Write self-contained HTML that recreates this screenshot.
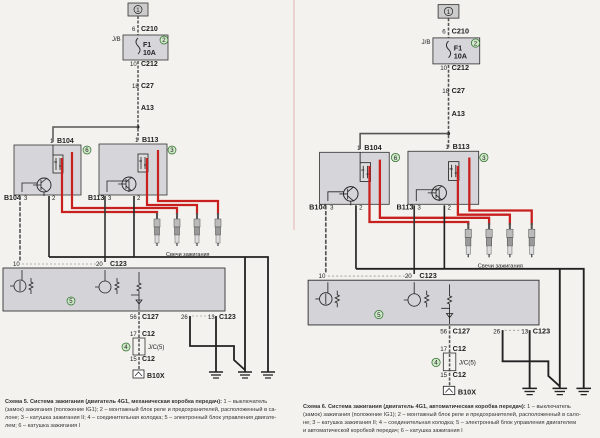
<!DOCTYPE html>
<html><head><meta charset="utf-8"><style>
html,body{margin:0;padding:0;background:#f3f2ee;}
svg{display:block;}
text{font-family:"Liberation Sans",sans-serif;fill:#222;}
.b{font-weight:bold;font-size:7px;}
.s{font-size:6px;}
.cap{font-size:5.6px;fill:#333;}
</style></head><body>
<svg width="600" height="438" viewBox="0 0 600 438" xmlns="http://www.w3.org/2000/svg">
<defs>
<g id="plug">
  <rect x="-1" y="0" width="2" height="6" fill="#555"/>
  <rect x="-3" y="6" width="6" height="8" fill="#bbb" stroke="#666" stroke-width="0.6"/>
  <rect x="-2.5" y="14" width="5" height="8" fill="#999" stroke="#555" stroke-width="0.6"/>
  <rect x="-2" y="22" width="4" height="8" fill="#ddd" stroke="#777" stroke-width="0.6"/>
  <rect x="-0.6" y="30" width="1.2" height="3" fill="#444"/>
</g>
<g id="gnd">
  <line x1="-7" y1="0" x2="7" y2="0" stroke="#222" stroke-width="1.5"/>
  <line x1="-5" y1="3" x2="5" y2="3" stroke="#222" stroke-width="1.3"/>
  <line x1="-3" y1="6" x2="3" y2="6" stroke="#222" stroke-width="1.2"/>
</g>
<g id="coil">
  <rect x="-5" y="0" width="10" height="18" fill="#ddd" stroke="#222" stroke-width="0.8"/>
  <path d="M-2 3 v12 M2 3 v12 M-4 7 h3 M1 11 h3" stroke="#222" stroke-width="0.8"/>
  <circle cx="-14" cy="30" r="7" fill="none" stroke="#222" stroke-width="0.9"/>
  <path d="M-17 25 v10 M-17 30 h-8 M-17 28 l6 -5 M-17 32 l6 5" stroke="#222" stroke-width="0.8" fill="none"/>
</g>
<g id="half">
  <rect x="128" y="3" width="20" height="13" fill="#ccc" stroke="#333" stroke-width="0.8"/>
  <circle cx="138" cy="9.5" r="4" fill="none" stroke="#222" stroke-width="0.7"/>
  <text x="136.3" y="12" class="s">1</text>
  <line x1="138" y1="16" x2="138" y2="142" stroke="#555" stroke-width="1.5" stroke-dasharray="3,1.5"/>
  <text x="132" y="31" class="s">6</text><text x="141" y="31" class="b">C210</text>
  <rect x="123" y="35" width="45" height="25" fill="#d6d6da" stroke="#333" stroke-width="0.8"/>
  <text x="112" y="41" class="s">J/B</text>
  <circle cx="164" cy="40" r="4" fill="#cfe8c8" stroke="#2a6a2a" stroke-width="0.7"/>
  <text x="162.3" y="42.2" class="s">2</text>
  <path d="M138 38 q-4 4 0 8 q4 4 0 8" fill="none" stroke="#222" stroke-width="0.9"/>
  <text x="143" y="47" class="b">F1</text><text x="143" y="55" class="b">10A</text>
  <text x="130" y="66" class="s">10</text><text x="141" y="66" class="b">C212</text>
  <text x="132" y="88" class="s">18</text><text x="141" y="88" class="b">C27</text>
  <text x="141" y="110" class="b">A13</text>
  <circle cx="138" cy="127" r="1.5" fill="#222"/>
  <path d="M138 127 H53 V142" fill="none" stroke="#555" stroke-width="1.5"/>
  <rect x="14" y="145" width="67" height="50" fill="#d6d6da" stroke="#333" stroke-width="0.8"/>
  <rect x="99" y="144" width="68" height="51" fill="#d6d6da" stroke="#333" stroke-width="0.8"/>
  <text x="50" y="143" class="s">1</text><text x="57" y="143" class="b">B104</text>
  <text x="135" y="142" class="s">1</text><text x="142" y="142" class="b">B113</text>
  <circle cx="87" cy="150" r="4" fill="#cfe8c8" stroke="#2a6a2a" stroke-width="0.7"/><text x="85.3" y="152.2" class="s">6</text>
  <circle cx="172" cy="150" r="4" fill="#cfe8c8" stroke="#2a6a2a" stroke-width="0.7"/><text x="170.3" y="152.2" class="s">3</text>
  <use href="#coil" x="58" y="155"/>
  <use href="#coil" x="143" y="154"/>
  <path d="M53 155 V145 M44 192 v4 M22 192 V183 H37 M129 192 V181 H120 H107 V192" stroke="#222" stroke-width="0.8" fill="none"/>
  <text x="4" y="200" class="b">B104</text><text x="24" y="200" class="s">3</text><text x="52" y="200" class="s">2</text>
  <text x="88" y="200" class="b">B113</text><text x="108" y="200" class="s">3</text><text x="137" y="200" class="s">2</text>
  <g fill="none" stroke="#c8201e" stroke-width="2.2">
    <path d="M62 158 V212 H157 V215"/>
    <path d="M72 152 V208 H177 V215"/>
    <path d="M147 158 V205 H197 V215"/>
    <path d="M158 150 V201 H218 V215"/>
  </g>
  <use href="#plug" x="157" y="213"/><use href="#plug" x="177" y="213"/>
  <use href="#plug" x="197" y="213"/><use href="#plug" x="218" y="213"/>
  <text x="166" y="256" style="font-size:5.5px">Свечи зажигания</text>
  <line x1="20" y1="196" x2="20" y2="262" stroke="#555" stroke-width="1.6" stroke-dasharray="4,1.5"/>
  <line x1="49" y1="196" x2="49" y2="257" stroke="#222" stroke-width="1.6"/>
  <line x1="105" y1="196" x2="105" y2="262" stroke="#333" stroke-width="1.6"/>
  <line x1="134" y1="196" x2="134" y2="257" stroke="#222" stroke-width="1.6"/>
  <path d="M49 257 H268 V372 M245 257 V372" fill="none" stroke="#222" stroke-width="1.8"/>
  <text x="13" y="266" class="s">10</text><text x="96" y="266" class="s">20</text><text x="110" y="266" class="b">C123</text>
  <line x1="22" y1="264" x2="103" y2="264" stroke="#777" stroke-width="0.6" stroke-dasharray="2,2"/>
  <rect x="3" y="268" width="222" height="43" fill="#d4d4d8" stroke="#333" stroke-width="0.9"/>
  <circle cx="71" cy="301" r="4" fill="#cfe8c8" stroke="#2a6a2a" stroke-width="0.7"/><text x="69.3" y="303.2" class="s">5</text>
  <g stroke="#222" stroke-width="0.8" fill="none">
    <circle cx="20" cy="286" r="6"/><path d="M22 270 V280 M14 286 h-4 M20 281 v10"/>
    <path d="M31 278 v4 l2 1 -4 2 4 2 -4 2 2 1 v4"/>
    <circle cx="105" cy="287" r="6"/><path d="M105 270 V281 M99 287 h-4"/>
    <path d="M117 278 v4 l2 1 -4 2 4 2 -4 2 2 1 v4"/>
    <path d="M139 272 V283 l2 1 -4 2 4 2 -4 2 2 1 V310 M131 295 h8 M136 300 l3 4 3 -4 z"/>
  </g>
  <text x="130" y="319" class="s">56</text><text x="142" y="319" class="b">C127</text>
  <line x1="139" y1="312" x2="139" y2="370" stroke="#555" stroke-width="1.5" stroke-dasharray="3,1.5"/>
  <text x="130" y="336" class="s">17</text><text x="142" y="336" class="b">C12</text>
  <rect x="133" y="338" width="12" height="17" fill="none" stroke="#333" stroke-width="0.8"/>
  <circle cx="126" cy="347" r="4" fill="#cfe8c8" stroke="#2a6a2a" stroke-width="0.7"/><text x="124.3" y="349.2" class="s">4</text>
  <text x="148" y="349" class="s">J/C(5)</text>
  <text x="130" y="361" class="s">15</text><text x="142" y="361" class="b">C12</text>
  <rect x="133" y="370" width="11" height="8" fill="#fff" stroke="#222" stroke-width="0.8"/>
  <path d="M135 376 l3.5 -4 3.5 4" fill="none" stroke="#222" stroke-width="0.7"/>
  <text x="147" y="378" class="b">B10X</text>
  <text x="181" y="319" class="s">26</text><text x="208" y="319" class="s">13</text><text x="219" y="319" class="b">C123</text>
  <line x1="192" y1="316" x2="214" y2="316" stroke="#777" stroke-width="0.6" stroke-dasharray="2,2"/>
  <path d="M190 316 V346 H234 V360 L245 370 M216 316 V372" fill="none" stroke="#222" stroke-width="1.8"/>
  <use href="#gnd" x="216" y="372"/><use href="#gnd" x="245" y="372"/><use href="#gnd" x="268" y="372"/>
</g>
</defs>
<use href="#half"/>
<line x1="294" y1="0" x2="294" y2="230" stroke="#e3a0a0" stroke-width="0.8"/>
<g transform="translate(305,1.5) scale(1.04)"><use href="#half"/></g>
<g>
<text x="5" y="403" class="cap"><tspan font-weight="bold">Схема 5. Система зажигания (двигатель 4G1, механическая коробка передач):</tspan> 1 – выключатель</text>
<text x="5" y="411" class="cap">(замок) зажигания (положение IG1); 2 – монтажный блок реле и предохранителей, расположенный в са-</text>
<text x="5" y="419" class="cap">лоне; 3 – катушка зажигания II; 4 – соединительная колодка; 5 – электронный блок управления двигате-</text>
<text x="5" y="427" class="cap">лем; 6 – катушка зажигания I</text>
<text x="303" y="408" class="cap"><tspan font-weight="bold">Схема 6. Система зажигания (двигатель 4G1, автоматическая коробка передач):</tspan> 1 – выключатель</text>
<text x="303" y="416" class="cap">(замок) зажигания (положение IG1); 2 – монтажный блок реле и предохранителей, расположенный в сало-</text>
<text x="303" y="424" class="cap">не; 3 – катушка зажигания II; 4 – соединительная колодка; 5 – электронный блок управления двигателем</text>
<text x="303" y="432" class="cap">и автоматической коробкой передач; 6 – катушка зажигания I</text>
</g>
</svg>
</body></html>
